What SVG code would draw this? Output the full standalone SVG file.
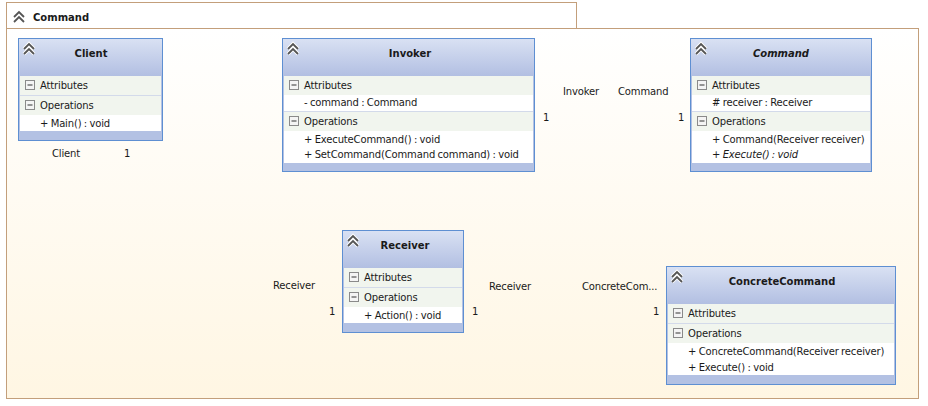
<svg xmlns="http://www.w3.org/2000/svg" width="928" height="406" viewBox="0 0 928 406">
<defs>
<linearGradient id="pkg" x1="0" y1="0" x2="0" y2="1">
<stop offset="0" stop-color="#FFFFFF"/><stop offset="1" stop-color="#FFF6E3"/>
</linearGradient>
<linearGradient id="hdr" x1="0" y1="0" x2="0" y2="1">
<stop offset="0" stop-color="#D9E1F3"/><stop offset="1" stop-color="#B2BFE2"/>
</linearGradient>
<g id="chev">
<path d="M0,6 l5,-5 l5,5 M0,11 l5,-5 l5,5" fill="none" stroke="#FFFFFF" stroke-width="3.8" stroke-linejoin="miter"/>
<path d="M0,6 l5,-5 l5,5 M0,11 l5,-5 l5,5" fill="none" stroke="#555555" stroke-width="1.8"/>
</g>
<g id="minus">
<rect x="0.5" y="0.5" width="9" height="9" fill="#F4F4F4" stroke="#8A8A8A"/>
<line x1="2.5" y1="5" x2="7.5" y2="5" stroke="#333" stroke-width="1"/>
</g>
</defs>
<style>
text{font-family:"DejaVu Sans","Liberation Sans",sans-serif;font-size:10px;fill:#1A1A1A;letter-spacing:-0.15px;word-spacing:-0.6px}
.t{font-weight:bold;text-anchor:middle;letter-spacing:0}
.pt{font-weight:bold;letter-spacing:0}
.it{font-style:italic}
.box{fill:#B3C1E3;stroke:#5E8FD2;stroke-width:1}
.row{fill:#F1F5EE}
.mem{fill:#FFFFFF}
.sep{stroke:#D3DAEA;stroke-width:1}
</style>

<g id="package">
<rect x="6.5" y="2.5" width="570" height="26" fill="#FFFFFF" stroke="#C39F7B"/>
<rect x="6.5" y="28.5" width="912" height="370" fill="url(#pkg)" stroke="#C39F7B"/>
<use href="#chev" x="14" y="11"/>
<text class="pt" x="33" y="21">Command</text>
</g>

<g id="Client">
<rect class="box" x="18.5" y="38.5" width="144" height="102"/>
<rect x="19" y="39" width="143" height="37" fill="url(#hdr)"/>
<use href="#chev" x="24" y="43"/>
<text class="t" x="91" y="57">Client</text>
<rect class="row" x="20" y="76" width="141" height="19"/>
<use href="#minus" x="25" y="80"/>
<text x="40" y="89">Attributes</text>
<line class="sep" x1="20" y1="95.5" x2="161" y2="95.5"/>
<rect class="row" x="20" y="96" width="141" height="19"/>
<use href="#minus" x="25" y="100"/>
<text x="40" y="109">Operations</text>
<rect class="mem" x="20" y="115" width="141" height="16"/>
<text x="40" y="127">+ Main() : void</text>
</g>

<g id="Invoker">
<rect class="box" x="282.5" y="38.5" width="252" height="133"/>
<rect x="283" y="39" width="251" height="37" fill="url(#hdr)"/>
<use href="#chev" x="288" y="43"/>
<text class="t" x="410" y="57">Invoker</text>
<rect class="row" x="284" y="76" width="249" height="19"/>
<use href="#minus" x="289" y="80"/>
<text x="304" y="89">Attributes</text>
<rect class="mem" x="284" y="95" width="249" height="16"/>
<text x="304" y="106">- command : Command</text>
<line class="sep" x1="284" y1="111.5" x2="533" y2="111.5"/>
<rect class="row" x="284" y="112" width="249" height="19"/>
<use href="#minus" x="289" y="116"/>
<text x="304" y="125">Operations</text>
<rect class="mem" x="284" y="131" width="249" height="32"/>
<text x="304" y="143">+ ExecuteCommand() : void</text>
<text x="304" y="158">+ SetCommand(Command command) : void</text>
</g>

<g id="CommandClass">
<rect class="box" x="690.5" y="38.5" width="181" height="133"/>
<rect x="691" y="39" width="180" height="37" fill="url(#hdr)"/>
<use href="#chev" x="696" y="43"/>
<text class="t it" x="781" y="57">Command</text>
<rect class="row" x="692" y="76" width="178" height="19"/>
<use href="#minus" x="697" y="80"/>
<text x="712" y="89">Attributes</text>
<rect class="mem" x="692" y="95" width="178" height="16"/>
<text x="712" y="106"># receiver : Receiver</text>
<line class="sep" x1="692" y1="111.5" x2="870" y2="111.5"/>
<rect class="row" x="692" y="112" width="178" height="19"/>
<use href="#minus" x="697" y="116"/>
<text x="712" y="125">Operations</text>
<rect class="mem" x="692" y="131" width="178" height="32"/>
<text x="712" y="143">+ Command(Receiver receiver)</text>
<text class="it" x="712" y="158">+ Execute() : void</text>
</g>

<g id="Receiver">
<rect class="box" x="342.5" y="230.5" width="121" height="102"/>
<rect x="343" y="231" width="120" height="37" fill="url(#hdr)"/>
<use href="#chev" x="348" y="235"/>
<text class="t" x="405" y="249">Receiver</text>
<rect class="row" x="344" y="268" width="118" height="19"/>
<use href="#minus" x="349" y="272"/>
<text x="364" y="281">Attributes</text>
<line class="sep" x1="344" y1="287.5" x2="462" y2="287.5"/>
<rect class="row" x="344" y="288" width="118" height="19"/>
<use href="#minus" x="349" y="292"/>
<text x="364" y="301">Operations</text>
<rect class="mem" x="344" y="307" width="118" height="16"/>
<text x="364" y="319">+ Action() : void</text>
</g>

<g id="ConcreteCommand">
<rect class="box" x="666.5" y="266.5" width="229" height="118"/>
<rect x="667" y="267" width="228" height="37" fill="url(#hdr)"/>
<use href="#chev" x="672" y="271"/>
<text class="t" x="782" y="285">ConcreteCommand</text>
<rect class="row" x="668" y="304" width="226" height="19"/>
<use href="#minus" x="673" y="308"/>
<text x="688" y="317">Attributes</text>
<line class="sep" x1="668" y1="323.5" x2="894" y2="323.5"/>
<rect class="row" x="668" y="324" width="226" height="19"/>
<use href="#minus" x="673" y="328"/>
<text x="688" y="337">Operations</text>
<rect class="mem" x="668" y="343" width="226" height="32"/>
<text x="688" y="355">+ ConcreteCommand(Receiver receiver)</text>
<text x="688" y="371">+ Execute() : void</text>
</g>

<g id="connectors">
<text x="52" y="157">Client</text>
<text x="124" y="157">1</text>
<text x="563" y="95">Invoker</text>
<text x="618" y="95">Command</text>
<text x="543" y="121">1</text>
<text x="678" y="121">1</text>
<text x="273" y="289">Receiver</text>
<text x="329" y="315">1</text>
<text x="489" y="290">Receiver</text>
<text x="472" y="315">1</text>
<text x="582" y="290">ConcreteCom...</text>
<text x="653" y="315">1</text>
</g>
</svg>
